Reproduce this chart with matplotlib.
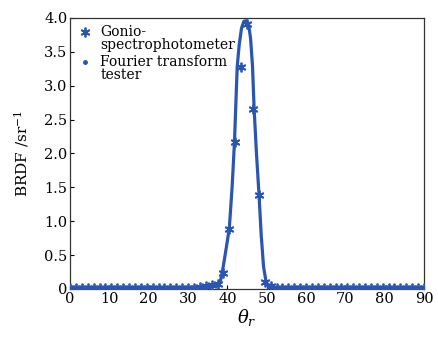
import numpy as np
import matplotlib
matplotlib.use("Agg")
import matplotlib.pyplot as plt

plt.rcParams['font.family'] = ['DejaVu Serif']
plt.rcParams['mathtext.fontset'] = 'dejavuserif'

# Goniospectrophotometer (stars), every 1.5 degrees
gonio_x = [0, 1.5, 3, 4.5, 6, 7.5, 9, 10.5, 12, 13.5, 15, 16.5, 18, 19.5, 21, 22.5,
           24, 25.5, 27, 28.5, 30, 31.5, 33, 34.5, 36, 37.5, 39, 40.5, 42, 43.5,
           45, 46.5, 48, 49.5, 51, 52.5, 54, 55.5, 57, 58.5, 60, 61.5, 63, 64.5,
           66, 67.5, 69, 70.5, 72, 73.5, 75, 76.5, 78, 79.5, 81, 82.5, 84, 85.5,
           87, 88.5, 90]
gonio_y = [0.01, 0.01, 0.01, 0.01, 0.01, 0.01, 0.01, 0.01, 0.01, 0.01, 0.01, 0.01,
           0.01, 0.01, 0.01, 0.01, 0.01, 0.01, 0.01, 0.02, 0.02, 0.02, 0.03, 0.04,
           0.06, 0.08, 0.24, 0.89, 2.17, 3.28, 3.91, 2.66, 1.39, 0.11, 0.04, 0.02,
           0.01, 0.01, 0.01, 0.01, 0.01, 0.01, 0.01, 0.01, 0.01, 0.01, 0.01, 0.01,
           0.01, 0.01, 0.01, 0.01, 0.01, 0.01, 0.01, 0.01, 0.01, 0.01, 0.01, 0.01,
           0.01]

# Fourier transform tester (dense line)
fourier_x = [0, 10, 20, 30, 33, 36, 37.5, 38.0, 38.5, 39.0, 39.7, 40.5, 41.2, 41.8,
             42.5, 43.0, 43.6, 44.2, 44.8, 45.4, 45.9, 46.2, 46.4, 46.8, 47.4,
             48.05, 48.6, 49.2, 49.8, 50.5, 51.5, 55, 60, 70, 80, 90]
fourier_y = [0.01, 0.01, 0.01, 0.02, 0.03, 0.05, 0.06, 0.08, 0.18, 0.35, 0.60, 0.90,
             1.50, 2.16, 3.28, 3.60, 3.85, 3.95, 3.96, 3.90, 3.70, 3.45, 3.28, 2.66,
             2.00, 1.39, 0.80, 0.33, 0.12, 0.03, 0.01, 0.01, 0.01, 0.01, 0.01, 0.01]

xticks = [0, 10, 20, 30, 40, 50, 60, 70, 80, 90]
yticks = [0, 0.5, 1.0, 1.5, 2.0, 2.5, 3.0, 3.5, 4.0]
ytick_labels = ['0', '0.5', '1.0', '1.5', '2.0', '2.5', '3.0', '3.5', '4.0']

color = '#2a56b2'
star = (6, 2, 0)

fig = plt.figure(figsize=(4.38, 3.39), dpi=100)
ax = fig.add_axes([0.160, 0.1475, 0.808, 0.7995])

ax.plot(fourier_x, fourier_y, '-', color=color, lw=2.3, zorder=3)
ax.plot(gonio_x, gonio_y, linestyle='none', marker=star, color=color,
        markersize=7, markeredgewidth=1.3, zorder=4)

ax.set_xlim(0, 90)
ax.set_ylim(0, 4.0)
ax.set_xticks(xticks)
ax.set_yticks(yticks)
ax.set_yticklabels(ytick_labels)
ax.tick_params(direction='in', length=3, width=0.8, labelsize=10.5, pad=2,
               top=False, right=False)
for s in ax.spines.values():
    s.set_linewidth(0.9)
    s.set_color('#333333')

ax.set_xlabel(r'$\theta_r$', fontsize=13, labelpad=1)
ax.set_ylabel(r'BRDF /sr$^{-1}$', fontsize=11, labelpad=9)

# Manual legend
ax.plot([0.042], [0.948], transform=ax.transAxes, marker=star, color=color,
        markersize=7, markeredgewidth=1.3, linestyle='none', clip_on=False)
ax.text(0.085, 0.975, 'Gonio-\nspectrophotometer', transform=ax.transAxes,
        fontsize=10, va='top', ha='left', linespacing=0.95)
ax.plot([0.042], [0.838], transform=ax.transAxes, marker='o', color=color,
        markersize=2.5, linestyle='none', clip_on=False)
ax.text(0.085, 0.865, 'Fourier transform\ntester', transform=ax.transAxes,
        fontsize=10, va='top', ha='left', linespacing=0.95)

fig.savefig('out.png', dpi=100)
